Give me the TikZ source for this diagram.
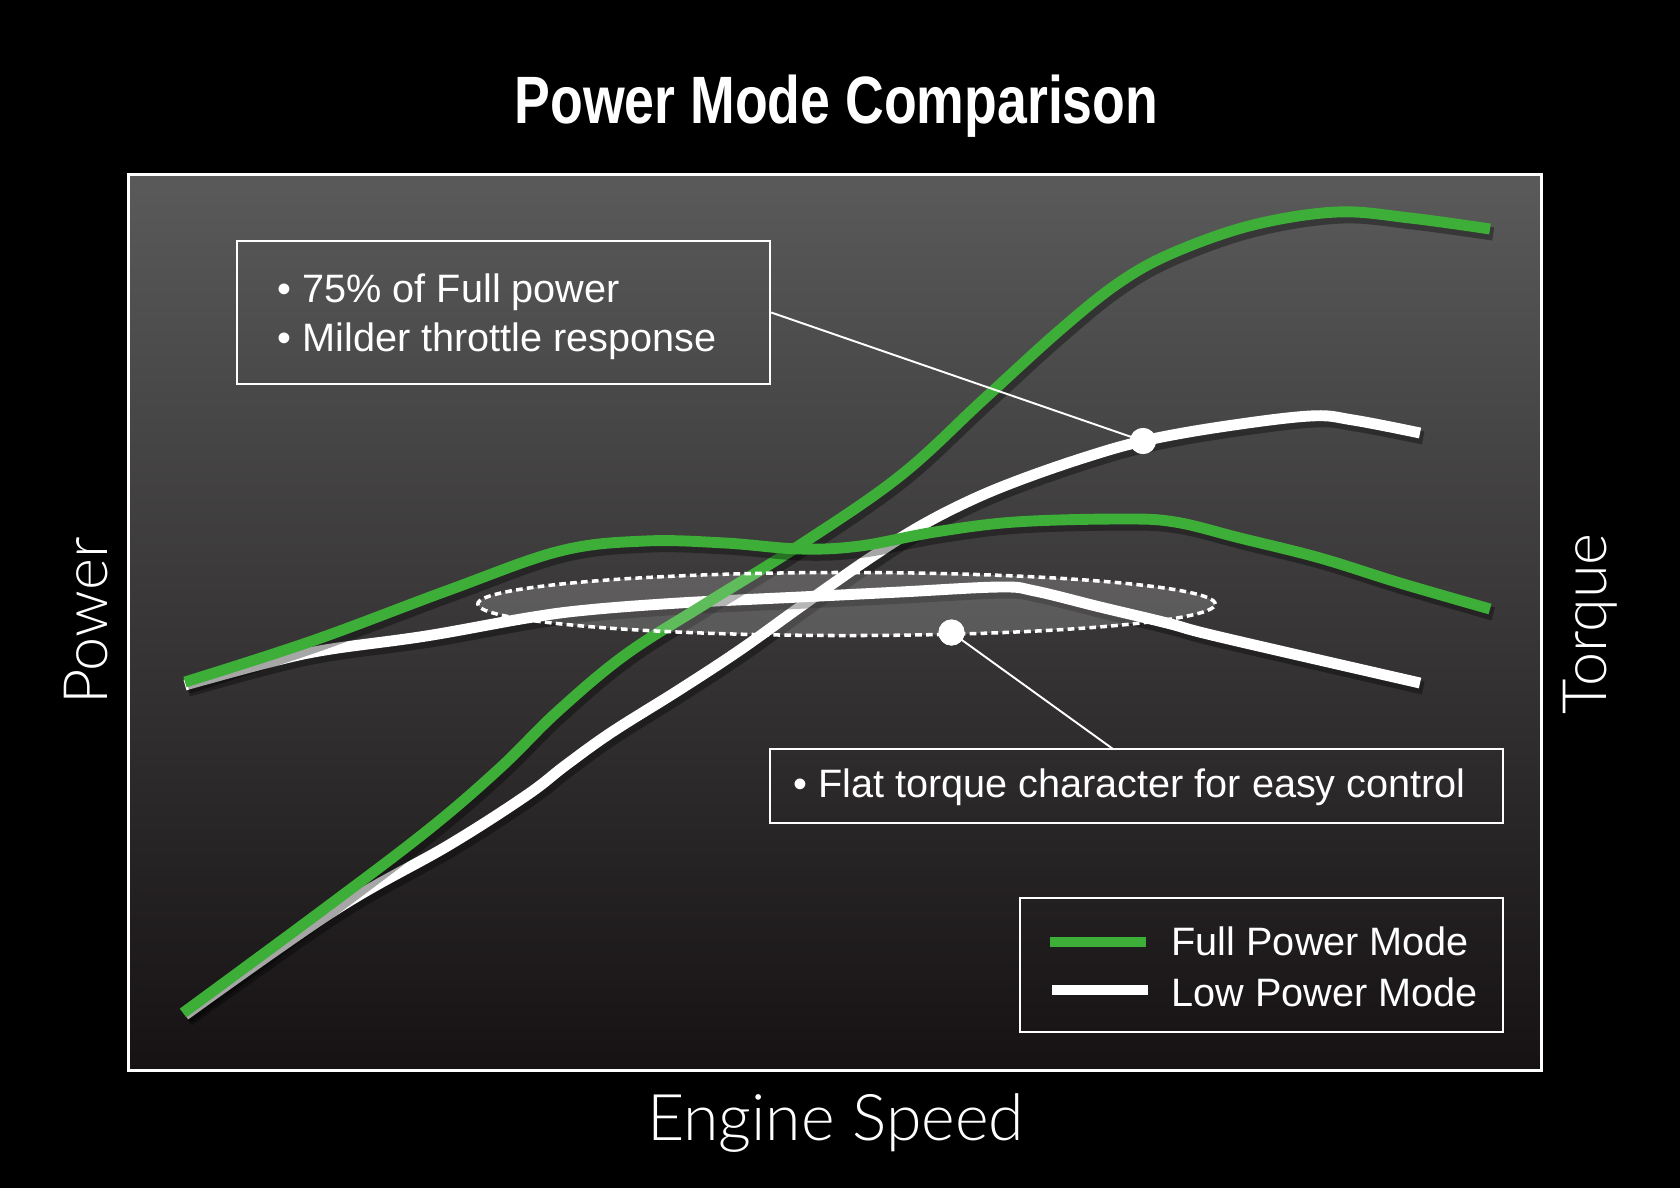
\documentclass[tikz,border=0pt]{standalone}
\usepackage{fontspec}
\usetikzlibrary{shapes.geometric}
\setmainfont{Liberation Sans}
\newfontfamily\titlefont[FakeStretch=0.80]{Liberation Sans}
\newfontfamily\lightfont{Lato Light}
\definecolor{pgreen}{HTML}{3DAE38}
\definecolor{ftop}{HTML}{5A5A5A}
\definecolor{fbot}{HTML}{161213}
\begin{document}
\begin{tikzpicture}[x=0.01cm,y=-0.01cm,
  curve/.style={line width=3.1pt, line join=round,
    preaction={draw=black, opacity=0.35, line width=3.8pt,
      transform canvas={xshift=0.9pt, yshift=-1.4pt}}},
  boxnode/.style={draw=white, line width=0.6pt, rectangle, inner sep=0pt},
  conn/.style={draw=white, line width=0.55pt},
  dotnode/.style={circle, fill=white, minimum size=0.26cm, inner sep=0pt},
  body/.style={text=white, font=\fontsize{11.27}{13}\selectfont, inner sep=0pt, anchor=base west},
  axislabel/.style={text=white, font=\lightfont\fontsize{17.4}{20}\selectfont, inner sep=0pt, anchor=base},
  legline/.style={line width=2.85pt}
]
\useasboundingbox (0,0) rectangle (1680,1188);
\fill[black] (0,0) rectangle (1680,1188);

% title
\node (title) [text=white, font=\titlefont\bfseries\fontsize{19.06}{22}\selectfont, inner sep=0pt, anchor=base] at (836.5,123.3) {Power Mode Comparison};

% frame
\node (frame) [draw=white, line width=0.85pt, top color=ftop, bottom color=fbot,
  minimum width=14.12cm, minimum height=8.95cm, inner sep=0pt] at (835,622.5) {};

% axis labels
\node (power) [axislabel, rotate=90] at (107,621) {Power};
\node (torque) [axislabel, rotate=90] at (1606.7,624) {Torque};
\node (speed) [axislabel, font=\lightfont\fontsize{18.3}{21}\selectfont] at (835.5,1140) {Engine Speed};

% low power mode curves (white)
\draw[curve, white] plot[smooth, tension=0.6] coordinates {
 (185,1015) (335,910) (449,845) (527,795) (566,765) (612,732) (679,690) (740,650)
 (800,607) (867,560) (917,528) (967,502) (1017,481) (1083,458) (1143,441)
 (1220,427) (1310,416) (1353,420) (1420,433)};
\draw[curve, white] plot[smooth, tension=0.6] coordinates {
 (185,685) (266,663) (325,650) (426,636) (527,618) (587,610) (679,603) (800,597)
 (900,592) (1000,587) (1035,591) (1100,607) (1167,623) (1220,637) (1420,683)};

% full power mode curves (green)
\draw[curve, pgreen] plot[smooth, tension=0.6] coordinates {
 (183,1013) (320,912) (428,830) (500,768) (557,712) (625,655) (705,604) (800,545)
 (900,476) (983,400) (1060,330) (1120,282) (1175,252) (1253,225) (1337,212)
 (1410,218) (1490,229)};
\draw[curve, pgreen] plot[smooth, tension=0.6] coordinates {
 (185,682) (312,641) (449,590) (560,551) (645,541) (725,543) (800,549) (860,546)
 (935,532) (1015,522) (1120,519) (1175,522) (1240,538) (1320,558) (1400,583)
 (1490,609)};

% highlighted region
\node (region) [ellipse, draw=white, line width=1pt, dash pattern=on 1.9pt off 1.2pt,
  fill=white, fill opacity=0.18, draw opacity=1, minimum width=7.37cm, minimum height=0.63cm,
  inner sep=0pt] at (846.5,604) {};

% callout boxes
\node (box1) [boxnode, minimum width=5.33cm, minimum height=1.43cm] at (503.5,312.5) {};
\node (box2) [boxnode, minimum width=7.325cm, minimum height=0.74cm] at (1136.75,786) {};
\node (t1a) [body] at (277,302.3) {• 75\% of Full power};
\node (t1b) [body] at (277,351.7) {• Milder throttle response};
\node (t2) [body] at (792.5,797.3) {• Flat torque character for easy control};

% connectors and dots
\node (dot1) [dotnode] at (1143,441) {};
\node (dot2) [dotnode] at (951.5,632.5) {};
\coordinate (c2) at (1113,749);
\draw[conn] (box1.east) -- (dot1.center);
\draw[conn] (dot2.center) -- (c2);
\node[dotnode] at (dot1) {};
\node[dotnode] at (dot2) {};

% legend
\node (legend) [boxnode, minimum width=4.825cm, minimum height=1.34cm] at (1261.75,964.7) {};
\coordinate (lg1a) at (1050,941.7);
\coordinate (lg1b) at (1146,941.7);
\coordinate (lg2a) at (1052,990);
\coordinate (lg2b) at (1148,990);
\draw[legline, pgreen] (lg1a) -- (lg1b);
\draw[legline, white] (lg2a) -- (lg2b);
\node (lt1) [body] at (1171,955) {Full Power Mode};
\node (lt2) [body] at (1171,1006.7) {Low Power Mode};
\end{tikzpicture}
\end{document}
